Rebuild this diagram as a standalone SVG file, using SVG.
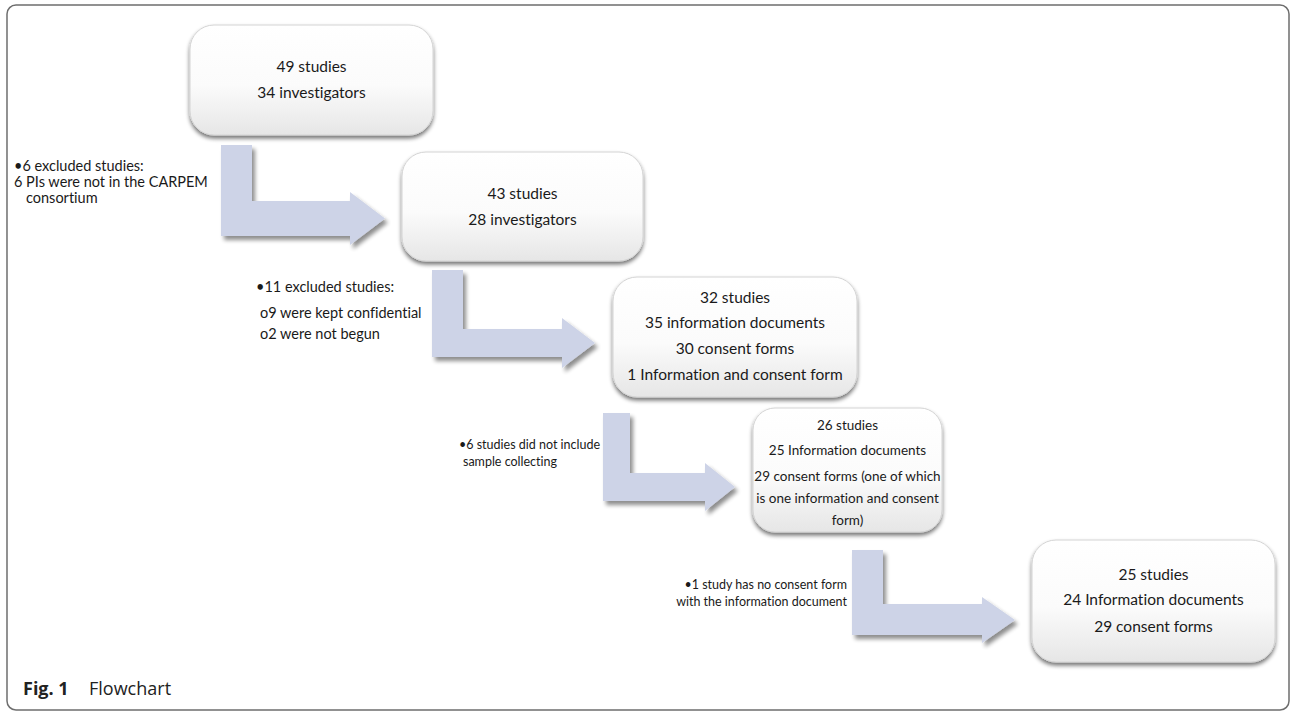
<svg xmlns="http://www.w3.org/2000/svg" width="1292" height="712" viewBox="0 0 1292 712">
<defs>
<linearGradient id="boxg" x1="0" y1="0" x2="0" y2="1">
<stop offset="0" stop-color="#ffffff"/>
<stop offset="0.55" stop-color="#fbfbfb"/>
<stop offset="1" stop-color="#e6e6e6"/>
</linearGradient>
<filter id="bsh" x="-10%" y="-10%" width="120%" height="130%">
<feGaussianBlur in="SourceAlpha" stdDeviation="2"/>
<feOffset dx="0" dy="3" result="b"/>
<feComponentTransfer><feFuncA type="linear" slope="0.55"/></feComponentTransfer>
<feMerge><feMergeNode/><feMergeNode in="SourceGraphic"/></feMerge>
</filter>
<filter id="ash" x="-10%" y="-10%" width="125%" height="130%">
<feGaussianBlur in="SourceAlpha" stdDeviation="2"/>
<feOffset dx="3" dy="4" result="b"/>
<feComponentTransfer><feFuncA type="linear" slope="0.45"/></feComponentTransfer>
<feMerge><feMergeNode/><feMergeNode in="SourceGraphic"/></feMerge>
</filter>
</defs>
<style>
text{font-variant-ligatures:none;font-feature-settings:"liga" 0}
.frame{fill:#ffffff;stroke:#6e6e6e;stroke-width:1.5}
.box{fill:url(#boxg);stroke:#d4d4d4;stroke-width:1;filter:url(#bsh)}
.arr{fill:#cdd3e7;filter:url(#ash)}
.bt{font-family:Lato,"Open Sans",sans-serif;font-size:15.5px;fill:#1a1a1a;text-anchor:middle}
.bs{font-family:Lato,"Open Sans",sans-serif;font-size:13.5px;fill:#1a1a1a;text-anchor:middle}
.lt{font-family:Lato,"Open Sans",sans-serif;font-size:14.5px;fill:#1a1a1a}
.lm{font-family:Lato,"Open Sans",sans-serif;font-size:14.5px;fill:#1a1a1a}
.ls{font-family:Lato,"Open Sans",sans-serif;font-size:12.5px;fill:#1a1a1a}
.cap{font-family:"Open Sans","Noto Sans",sans-serif;font-size:18px;fill:#222}
</style>
<rect class="frame" x="7" y="5" width="1282" height="705" rx="9"/>

<g id="connectors">
<polygon class="arr" points="221,145 252,145 252,201 350,201 350,192 385,218.5 350,245 350,236 221,236"/>
<polygon class="arr" points="432,270 463,270 463,329 562,329 562,318 595,343 562,368 562,357 432,357"/>
<polygon class="arr" points="603,413 630,413 630,473 705,473 705,463 735,487 705,511 705,501 603,501"/>
<polygon class="arr" points="852,550 883,550 883,604 982,604 982,597 1015,620 982,643 982,635 852,635"/>
</g>

<g id="n1">
<rect class="box" x="190" y="25" width="243" height="110" rx="24"/>
<text class="bt" x="311.5" y="72">49 studies</text>
<text class="bt" x="311.5" y="98">34 investigators</text>
</g>
<g id="n2">
<rect class="box" x="402" y="152" width="241" height="109" rx="24"/>
<text class="bt" x="522.5" y="199">43 studies</text>
<text class="bt" x="522.5" y="225">28 investigators</text>
</g>
<g id="n3">
<rect class="box" x="613" y="277" width="244" height="120" rx="24"/>
<text class="bt" x="735" y="303">32 studies</text>
<text class="bt" x="735" y="328">35 information documents</text>
<text class="bt" x="735" y="354">30 consent forms</text>
<text class="bt" x="735" y="380">1 Information and consent form</text>
</g>
<g id="n4">
<rect class="box" x="753" y="408" width="189" height="124" rx="22"/>
<text class="bs" x="847.5" y="430">26 studies</text>
<text class="bs" x="847.5" y="455">25 Information documents</text>
<text class="bs" x="847.5" y="481">29 consent forms (one of which</text>
<text class="bs" x="847.5" y="503">is one information and consent</text>
<text class="bs" x="847.5" y="525">form)</text>
</g>
<g id="n5">
<rect class="box" x="1032" y="540" width="243" height="122" rx="24"/>
<text class="bt" x="1153.5" y="580">25 studies</text>
<text class="bt" x="1153.5" y="605">24 Information documents</text>
<text class="bt" x="1153.5" y="632">29 consent forms</text>
</g>

<g id="notes">
<text class="lt" x="14" y="171">•6 excluded studies:</text>
<text class="lt" x="14" y="187">6 PIs were not in the CARPEM</text>
<text class="lt" x="26" y="203">consortium</text>
<text class="lm" x="256" y="292">•11 excluded studies:</text>
<text class="lm" x="260" y="318">o9 were kept confidential</text>
<text class="lm" x="260" y="339">o2 were not begun</text>
<text class="ls" x="459" y="449">•6 studies did not include</text>
<text class="ls" x="463" y="466">sample collecting</text>
<text class="ls" x="847" y="589" text-anchor="end">•1 study has no consent form</text>
<text class="ls" x="847" y="606" text-anchor="end">with the information document</text>
</g>

<g id="caption">
<text class="cap" x="23" y="695"><tspan font-weight="bold">Fig. 1</tspan><tspan x="89">Flowchart</tspan></text>
</g>
</svg>
